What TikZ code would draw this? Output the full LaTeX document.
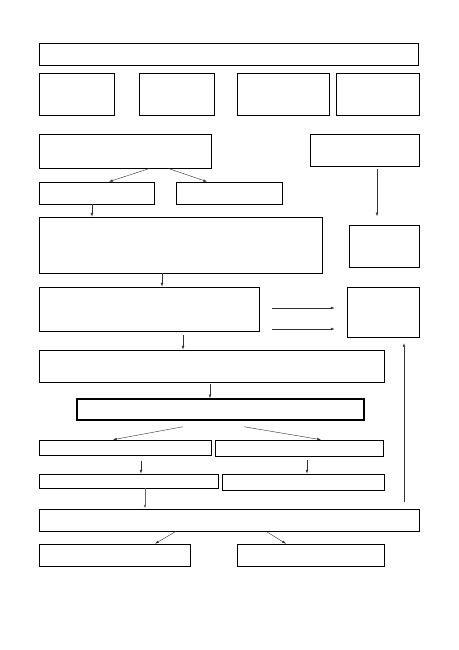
\documentclass[tikz,border=0pt]{standalone}
\usepackage{tikz}
\usetikzlibrary{arrows.meta,calc,fit}

\begin{document}
\begin{tikzpicture}[
  x=0.4575mm, y=-0.4575mm,
  blk/.style={draw=black, line width=0.8pt, inner sep=0pt, fill=white},
  blkkey/.style={blk, line width=1.9pt},
  flow/.style={
    -{Latex[length=1.7mm,width=1.2mm]},
    draw=black!80, line width=0.55pt
  }
]
\useasboundingbox (0,0) rectangle (459,650);

% ---- nodes ----------------------------------------------------------------
\node[blk, fit={(39,43) (418,65)}]   (head) {};
\node[blk, fit={(39,73) (114,115)}]  (col1) {};
\node[blk, fit={(139,73) (214,115)}] (col2) {};
\node[blk, fit={(237,73) (329,115)}] (col3) {};
\node[blk, fit={(336,73) (419,115)}] (col4) {};

\node[blk, fit={(39,134) (211,168)}]  (src)   {};
\node[blk, fit={(310,134) (419,166)}] (aux)   {};
\node[blk, fit={(39,182) (154,204)}]  (srcL)  {};
\node[blk, fit={(176,182) (282,204)}] (srcR)  {};
\node[blk, fit={(39,217) (322,273)}]  (merge) {};
\node[blk, fit={(349,225) (419,267)}] (auxOut) {};

\node[blk, fit={(39,287) (259,331)}]  (proc)  {};
\node[blk, fit={(347,287) (419,337)}] (sink)  {};
\node[blk, fit={(39,350) (384,382)}]  (stage) {};
\node[blkkey, fit={(77,399) (364,420)}] (core) {};

\node[blk, fit={(39,440) (211,455)}]  (brL)   {};
\node[blk, fit={(215,440) (383,456)}] (brR)   {};
\node[blk, fit={(39,474) (218,488)}]  (subL)  {};
\node[blk, fit={(222,474) (384,490)}] (subR)  {};
\node[blk, fit={(39,509) (419,531)}]  (out)   {};
\node[blk, fit={(39,544) (190,566)}]  (outL)  {};
\node[blk, fit={(237,544) (384,566)}] (outR)  {};

% ---- arrows ---------------------------------------------------------------
\draw[flow] (150,0 |- src.south) -- (109,0 |- srcL.north);
\draw[flow] (168,0 |- src.south) -- (207,0 |- srcR.north);
\draw[flow] (92,0 |- srcL.south) -- (92,0 |- merge.north);
\draw[flow, shorten <=1.2mm, shorten >=3.8mm] (377,0 |- aux.south) -- (377,0 |- auxOut.north);
\draw[flow] (162,0 |- merge.south) -- (162,0 |- proc.north);

\draw[flow, shorten <=6mm, shorten >=5.5mm] (0,308 -| proc.east) -- (0,308 -| sink.west);
\draw[flow, shorten <=6mm, shorten >=5.5mm] (0,329 -| proc.east) -- (0,329 -| sink.west);

\draw[flow, shorten <=1.8mm] (183,0 |- proc.south) -- (183,0 |- stage.north);
\draw[flow, shorten <=0.9mm] (210,0 |- stage.south) -- (210,0 |- core.north);

\draw[flow] ($(183,0 |- core.south)+(0,6)$) -- (113,0 |- brL.north);
\draw[flow] ($(244,0 |- core.south)+(0,6)$) -- (321,0 |- brR.north);
\draw[flow, shorten <=2.4mm] (141,0 |- brL.south) -- (141,0 |- subL.north);
\draw[flow, shorten <=1.8mm] (307,0 |- brR.south) -- (307,0 |- subR.north);
\draw[flow, line width=0.9pt, draw=black!60] (145,0 |- subL.south) -- (145,0 |- out.north);
\draw[flow] (176,0 |- out.south) -- (155,0 |- outL.north);
\draw[flow] (266,0 |- out.south) -- (286,0 |- outR.north);

\coordinate (back) at (404,502);
\draw[flow, shorten >=2.7mm] (back) -- (back |- sink.south);

\end{tikzpicture}
\end{document}
